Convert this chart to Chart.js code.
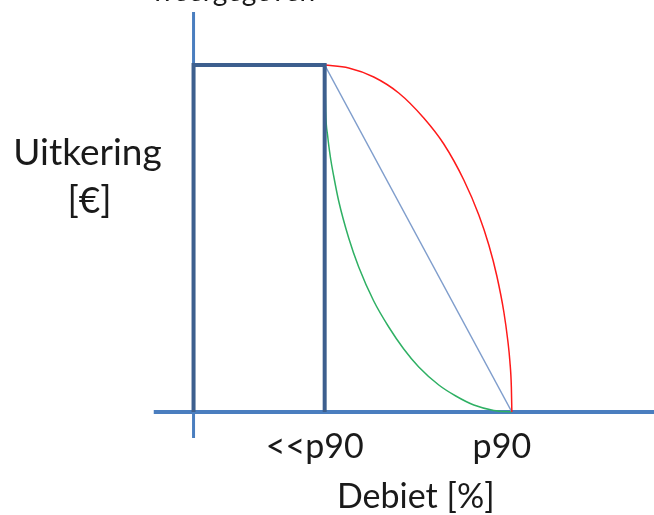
<!DOCTYPE html>
<html>
<head>
<meta charset="utf-8">
<script src="https://cdn.jsdelivr.net/npm/chart.js@4"></script>
<style>
  html, body { margin: 0; padding: 0; background: #ffffff; }
  #wrap { width: 654px; height: 515px; }
</style>
</head>
<body>
<div id="wrap"><canvas id="UitkeringChart" width="654" height="515"></canvas></div>
<script>
// debiet on x (0 = y-axis), uitkering on y (0 = x-axis)
var xAxisLine = [{x: -40, y: 0}, {x: 461, y: 0}];
var yAxisLine = [{x: 0, y: -26}, {x: 0, y: 400}];

var blokUitkering = [{x: 0, y: 0}, {x: 0, y: 347}, {x: 131, y: 347}, {x: 131, y: 0}];

var rodeLijn  = [{x: 131, y: 347}, {x: 155, y: 344}, {x: 180, y: 335}, {x: 205, y: 319},
                 {x: 230, y: 294}, {x: 250, y: 268}, {x: 270, y: 232}, {x: 285, y: 197},
                 {x: 295, y: 167}, {x: 303, y: 136}, {x: 310, y: 100}, {x: 314, y: 71},
                 {x: 316, y: 51}, {x: 317.5, y: 25}, {x: 318, y: 0}];
var blauweLijn = [{x: 131, y: 347}, {x: 318, y: 0}];
var groeneLijn = [{x: 131, y: 347}, {x: 132, y: 300}, {x: 134, y: 276}, {x: 137, y: 253},
                  {x: 140, y: 236}, {x: 145, y: 211}, {x: 155, y: 174}, {x: 165, y: 145},
                  {x: 180, y: 111}, {x: 195, y: 85}, {x: 210, y: 63}, {x: 225, y: 45},
                  {x: 245, y: 27}, {x: 262, y: 16}, {x: 280, y: 7}, {x: 300, y: 1.6},
                  {x: 318, y: 0}];

var tickWaarden = [131, 318];
var tickLabels = ["<<p90", "p90"];
var xTitel = "Debiet [%]";
var yTitel = ["Uitkering", "[€]"];
var kopTekst = "weergegeven";

var FONT = "Lato, 'Open Sans', sans-serif";

// texts: horizontal y title, tick labels, x title and the cut-off caption on top
var tekstPlugin = {
    id: "teksten",
    afterDraw: function (chart) {
        var ctx = chart.ctx;
        var sx = chart.scales.x, sy = chart.scales.y;
        var y0 = sy.getPixelForValue(0);
        ctx.save();
        ctx.fillStyle = "#1a1a1a";
        ctx.textBaseline = "alphabetic";

        ctx.textAlign = "center";
        ctx.font = "37px " + FONT;
        ctx.fillText(yTitel[0], sx.getPixelForValue(-106), y0 - 247);
        ctx.fillText(yTitel[1], sx.getPixelForValue(-104), y0 - 199);

        ctx.font = "34px " + FONT;
        for (var i = 0; i < tickWaarden.length; i++) {
            ctx.fillText(tickLabels[i], sx.getPixelForValue(tickWaarden[i]) - 10, y0 + 46);
        }
        ctx.fillText(xTitel, sx.getPixelForValue(222), y0 + 96);

        ctx.textAlign = "left";
        ctx.font = "28px " + FONT;
        var w = ctx.measureText("weer").width;
        ctx.fillText(kopTekst, 213 - w, 1);
        ctx.restore();
    }
};

function lijn(label, data, kleur, dikte, volgorde, smooth) {
    return {
        label: label,
        data: data,
        borderColor: kleur,
        backgroundColor: kleur,
        borderWidth: dikte,
        pointRadius: 0,
        fill: false,
        order: volgorde,
        cubicInterpolationMode: smooth ? "monotone" : "default",
        tension: 0,
        borderCapStyle: "butt",
        borderJoinStyle: "miter"
    };
}

document.addEventListener('DOMContentLoaded', function () {
    var canvas = document.getElementById("UitkeringChart");
    new Chart(canvas, {
        type: "line",
        data: {
            datasets: [
                lijn("blok", blokUitkering, "#3d5f8e", 4, 0, false),
                lijn("rood", rodeLijn, "#ff1a1a", 1.5, 1, true),
                lijn("blauw", blauweLijn, "#7f9dcc", 1.5, 1, false),
                lijn("groen", groeneLijn, "#2fb064", 1.5, 1, true),
                lijn("x-as", xAxisLine, "#4a7ebf", 4, 5, false),
                lijn("y-as", yAxisLine, "#4a7ebf", 3, 5, false)
            ]
        },
        options: {
            responsive: false,
            animation: false,
            layout: { padding: { left: 153.5, right: 0, top: 12, bottom: 77 } },
            scales: {
                x: { type: "linear", min: -40, max: 460, display: false },
                y: { type: "linear", min: -26, max: 400, display: false }
            },
            plugins: {
                legend: { display: false },
                tooltip: { enabled: false }
            },
            elements: { line: { capBezierPoints: false } }
        },
        plugins: [tekstPlugin]
    });
});
</script>
</body>
</html>
